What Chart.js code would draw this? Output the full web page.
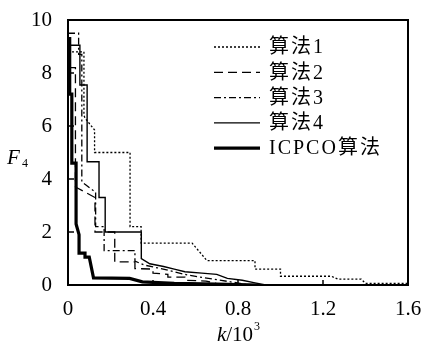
<!DOCTYPE html>
<html>
<head>
<meta charset="utf-8">
<script src="https://cdn.jsdelivr.net/npm/chart.js@4"></script>
<style>
  html, body { margin: 0; padding: 0; background: #fff; }
</style>
</head>
<body>
<canvas id="chart" width="422" height="347"></canvas>
<script>
// values, k in units of 10^3
const seriesNames = ['算法1', '算法2', '算法3', '算法4', 'ICPCO算法'];
const xTicks = [0, 0.4, 0.8, 1.2, 1.6];
const yTicks = [0, 2, 4, 6, 8, 10];

const alg1K = [0, 0.075, 0.075, 0.08, 0.125, 0.125, 0.292, 0.292, 0.344, 0.344, 0.584, 0.654, 0.88, 0.88, 1.0, 1.0, 1.24, 1.27, 1.38, 1.4, 1.6];
const alg1F = [8.8, 8.8, 6.4, 6.3, 5.85, 5.0, 5.0, 2.2, 2.2, 1.58, 1.58, 0.92, 0.92, 0.6, 0.6, 0.33, 0.33, 0.22, 0.22, 0.06, 0.06];

const alg2K = [0, 0.035, 0.035, 0.07, 0.127, 0.127, 0.22, 0.22, 0.315, 0.315, 0.4, 0.4, 0.47, 0.47, 0.55, 0.55, 0.65, 0.7, 0.75];
const alg2F = [8.2, 8.2, 3.7, 3.55, 3.3, 2.0, 2.0, 0.87, 0.87, 0.62, 0.6, 0.45, 0.4, 0.3, 0.3, 0.18, 0.15, 0.05, 0];

const alg3K = [0, 0.05, 0.05, 0.065, 0.065, 0.08, 0.13, 0.13, 0.17, 0.17, 0.315, 0.315, 0.36, 0.42, 0.5, 0.56, 0.62, 0.7, 0.78, 0.85];
const alg3F = [9.5, 9.5, 8.7, 8.7, 3.9, 3.8, 3.5, 2.2, 2.2, 1.3, 1.3, 0.9, 0.75, 0.65, 0.5, 0.38, 0.3, 0.2, 0.1, 0];

const alg4K = [0, 0.056, 0.056, 0.09, 0.09, 0.146, 0.146, 0.175, 0.175, 0.345, 0.345, 0.385, 0.45, 0.5, 0.55, 0.63, 0.7, 0.75, 0.82, 0.88, 0.93];
const alg4F = [9.05, 9.05, 7.55, 7.55, 4.65, 4.65, 3.3, 3.3, 2.0, 2.0, 1.0, 0.8, 0.7, 0.6, 0.5, 0.45, 0.4, 0.25, 0.18, 0.08, 0];

const icpcoK = [0, 0.008, 0.008, 0.018, 0.018, 0.038, 0.038, 0.052, 0.052, 0.08, 0.08, 0.1, 0.12, 0.29, 0.35, 0.5, 0.7, 0.9];
const icpcoF = [9.3, 9.3, 7.2, 7.2, 4.6, 4.6, 2.3, 1.9, 1.2, 1.2, 1.05, 1.05, 0.27, 0.25, 0.12, 0.06, 0.03, 0];

const serif = '"Liberation Serif", "Noto Sans CJK SC", serif';

function pts(ks, fs) {
    return ks.map((k, i) => ({ x: k, y: fs[i] }));
}

function line(label, ks, fs, width, dash, order) {
    return {
        label: label,
        data: pts(ks, fs),
        borderColor: '#000',
        borderWidth: width,
        borderDash: dash,
        pointRadius: 0,
        tension: 0,
        fill: false,
        order: order
    };
}

// frame, inward ticks, legend and axis titles
const decor = {
    id: 'decor',
    afterDraw(chart) {
        const ctx = chart.ctx;
        const a = chart.chartArea;
        const xs = chart.scales.x, ys = chart.scales.y;
        ctx.save();
        ctx.strokeStyle = '#000';
        ctx.setLineDash([]);
        ctx.lineWidth = 2;
        ctx.strokeRect(a.left, a.top, a.right - a.left, a.bottom - a.top);

        ctx.lineWidth = 1.5;
        ctx.beginPath();
        xTicks.slice(1, -1).forEach(v => {
            const px = xs.getPixelForValue(v);
            ctx.moveTo(px, a.bottom);
            ctx.lineTo(px, a.bottom - 5);
        });
        yTicks.slice(1, -1).forEach(v => {
            const py = ys.getPixelForValue(v);
            ctx.moveTo(a.left, py);
            ctx.lineTo(a.left + 6, py);
        });
        ctx.stroke();

        // legend inside the plot frame
        ctx.font = '20px ' + serif;
        ctx.letterSpacing = '2px';
        ctx.fillStyle = '#000';
        ctx.textBaseline = 'middle';
        ctx.textAlign = 'left';
        chart.data.datasets.forEach((ds, i) => {
            const y = a.top + 27 + i * 25.3;
            ctx.lineWidth = ds.borderWidth;
            ctx.setLineDash(ds.borderDash || []);
            ctx.beginPath();
            ctx.moveTo(a.right - 194, y);
            ctx.lineTo(a.right - 148, y);
            ctx.stroke();
            ctx.setLineDash([]);
            ctx.fillText(ds.label, a.right - 139, y + 1);
        });
        ctx.letterSpacing = '0px';

        // axis titles
        ctx.textBaseline = 'alphabetic';
        ctx.font = 'italic 21px ' + serif;
        ctx.fillText('F', a.left - 61, (a.top + a.bottom) / 2 + 11);
        ctx.font = '12px ' + serif;
        ctx.fillText('4', a.left - 46, (a.top + a.bottom) / 2 + 14);

        const cx = (a.left + a.right) / 2;
        ctx.font = 'italic 21px ' + serif;
        const kW = ctx.measureText('k').width;
        ctx.font = '21px ' + serif;
        const restW = ctx.measureText('/10').width;
        let x0 = cx - (kW + restW + 6) / 2;
        const base = a.bottom + 56;
        ctx.font = 'italic 21px ' + serif;
        ctx.fillText('k', x0, base);
        ctx.font = '21px ' + serif;
        ctx.fillText('/10', x0 + kW, base);
        ctx.font = '12px ' + serif;
        ctx.fillText('3', x0 + kW + restW + 1, base - 11);
        ctx.restore();
    }
};

new Chart(document.getElementById('chart').getContext('2d'), {
    type: 'line',
    data: {
        datasets: [
            line(seriesNames[0], alg1K, alg1F, 1.3, [2, 2], 4),
            line(seriesNames[1], alg2K, alg2F, 1.3, [9, 5], 3),
            line(seriesNames[2], alg3K, alg3F, 1.3, [7, 3, 2, 3], 2),
            line(seriesNames[3], alg4K, alg4F, 1.4, [], 1),
            line(seriesNames[4], icpcoK, icpcoF, 3.2, [], 0)
        ]
    },
    options: {
        responsive: false,
        animation: false,
        devicePixelRatio: 1,
        layout: { padding: { left: 0, top: 20, right: 14, bottom: 0 } },
        plugins: {
            legend: { display: false },
            tooltip: { enabled: false }
        },
        scales: {
            x: {
                type: 'linear',
                min: 0,
                max: 1.6,
                afterBuildTicks: s => { s.ticks = xTicks.map(v => ({ value: v })); },
                afterFit: s => { s.height = 62; s.paddingLeft = 0; s.paddingRight = 0; },
                grid: { display: false },
                border: { display: false },
                ticks: {
                    color: '#000',
                    padding: 4,
                    maxRotation: 0,
                    font: { family: serif, size: 21 },
                    callback: v => String(v)
                }
            },
            y: {
                type: 'linear',
                min: 0,
                max: 10,
                afterBuildTicks: s => { s.ticks = yTicks.map(v => ({ value: v })); },
                afterFit: s => { s.width = 68; s.paddingTop = 0; s.paddingBottom = 0; },
                grid: { display: false },
                border: { display: false },
                ticks: {
                    color: '#000',
                    padding: 8,
                    font: { family: serif, size: 21 },
                    callback: v => String(v)
                }
            }
        }
    },
    plugins: [decor]
});
</script>
</body>
</html>
